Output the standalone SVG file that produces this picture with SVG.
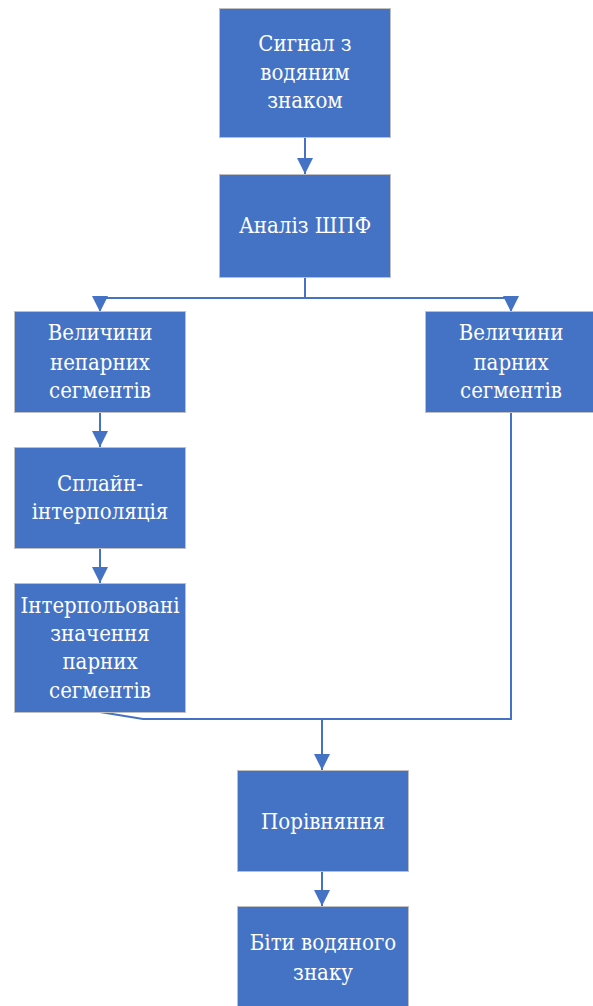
<svg xmlns="http://www.w3.org/2000/svg" width="593" height="1006" viewBox="0 0 593 1006">
<style>
.box{fill:#4472C4;stroke:#BFBFBF;stroke-width:1}
.t{font-family:'DejaVu Serif Condensed','DejaVu Serif','Liberation Serif',serif;font-stretch:condensed;font-size:22px;fill:#FFFFFF;text-anchor:middle}
.c{fill:none;stroke:#4472C4;stroke-width:2}
</style>
<defs>
<marker id="ah" viewBox="0 0 16 16" refX="16" refY="8" markerWidth="16" markerHeight="16" markerUnits="userSpaceOnUse" orient="auto">
<path d="M0,0 L16,8 L0,16 Z" fill="#4472C4"/>
</marker>
</defs>
<rect width="593" height="1006" fill="#FFFFFF"/>
<g id="connectors">
<path class="c" d="M305,137 V174" marker-end="url(#ah)"/>
<path class="c" d="M305,277 V298 H100 V312" marker-end="url(#ah)"/>
<path class="c" d="M305,298 H511 V312" marker-end="url(#ah)"/>
<path class="c" d="M100,412 V447" marker-end="url(#ah)"/>
<path class="c" d="M100,549 V583" marker-end="url(#ah)"/>
<path class="c" d="M100,712 L143,719 H511 V413"/>
<path class="c" d="M322,719 V770" marker-end="url(#ah)"/>
<path class="c" d="M322,871 V906" marker-end="url(#ah)"/>
</g>
<g id="n1"><rect class="box" x="219.5" y="8.5" width="171" height="129"/>
<text class="t" x="305" y="51">Сигнал з</text><text class="t" x="305" y="80">водяним</text><text class="t" x="305" y="108">знаком</text></g>
<g id="n2"><rect class="box" x="219.5" y="174.5" width="171" height="103"/>
<text class="t" x="305" y="233">Аналіз ШПФ</text></g>
<g id="n3"><rect class="box" x="14.5" y="311.5" width="171" height="101"/>
<text class="t" x="100" y="340">Величини</text><text class="t" x="100" y="370">непарних</text><text class="t" x="100" y="398">сегментів</text></g>
<g id="n4"><rect class="box" x="425.5" y="311.5" width="171" height="101"/>
<text class="t" x="511" y="340">Величини</text><text class="t" x="511" y="370">парних</text><text class="t" x="511" y="398">сегментів</text></g>
<g id="n5"><rect class="box" x="14.5" y="447.5" width="171" height="101"/>
<text class="t" x="100" y="491">Сплайн-</text><text class="t" x="100" y="519">інтерполяція</text></g>
<g id="n6"><rect class="box" x="14.5" y="583.5" width="171" height="129"/>
<text class="t" x="100" y="613">Інтерпольовані</text><text class="t" x="100" y="641">значення</text><text class="t" x="100" y="669">парних</text><text class="t" x="100" y="698">сегментів</text></g>
<g id="n7"><rect class="box" x="237.5" y="770.5" width="171" height="101"/>
<text class="t" x="323" y="829">Порівняння</text></g>
<g id="n8"><rect class="box" x="237.5" y="906.5" width="171" height="104"/>
<text class="t" x="323" y="950">Біти водяного</text><text class="t" x="323" y="980">знаку</text></g>
</svg>
